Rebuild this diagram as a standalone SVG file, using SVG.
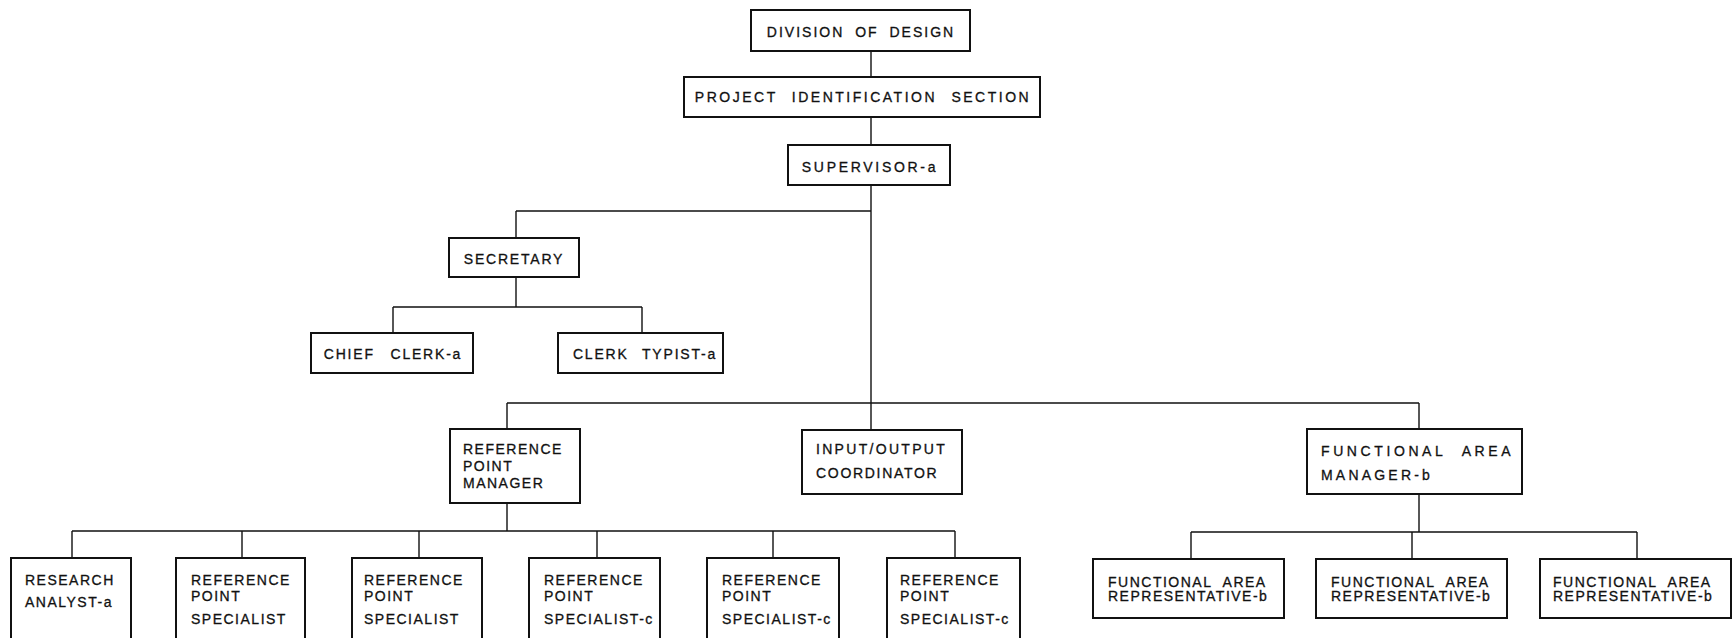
<svg xmlns="http://www.w3.org/2000/svg" width="1732" height="638" viewBox="0 0 1732 638">
<style>
.box{fill:#fff;stroke:#111;stroke-width:2}
.ln{fill:none;stroke:#111;stroke-width:1.4}
text{font-family:"Liberation Sans",Arial,sans-serif;font-size:14px;letter-spacing:1.5px;word-spacing:4px;fill:#111;stroke:#111;stroke-width:0.3px}
.c{text-anchor:middle}
</style>
<rect width="1732" height="638" fill="#fff"/>
<g id="connectors">
<path class="ln" d="M871 51V77M871 117V145M871 185V403M516 211H871M516 211V238M516 277V307M393 307H642M393 307V333M642 307V333"/>
<path class="ln" d="M507 403H1419M507 403V429M871 403V430M1419 403V429"/>
<path class="ln" d="M507 503V531M72 531H955M72 531V558M242 531V558M419 531V558M597 531V558M773 531V558M955 531V558"/>
<path class="ln" d="M1419 494V532M1191 532H1637M1191 532V559M1412 532V559M1637 532V559"/>
</g>
<g id="division"><rect class="box" x="751" y="10" width="219" height="41"/><text class="c" x="861" y="37" style="letter-spacing:2px;word-spacing:5px">DIVISION OF DESIGN</text></g>
<g id="project"><rect class="box" x="684" y="77" width="356" height="40"/><text class="c" x="863" y="102" style="letter-spacing:2.5px;word-spacing:8px">PROJECT IDENTIFICATION SECTION</text></g>
<g id="supervisor"><rect class="box" x="788" y="145" width="162" height="40"/><text class="c" x="870" y="172" style="letter-spacing:2.7px">SUPERVISOR-a</text></g>
<g id="secretary"><rect class="box" x="449" y="238" width="130" height="39"/><text class="c" x="514" y="264" style="letter-spacing:1.8px">SECRETARY</text></g>
<g id="chief-clerk"><rect class="box" x="311" y="333" width="162" height="40"/><text class="c" x="393" y="359" style="letter-spacing:1.8px;word-spacing:10px">CHIEF CLERK-a</text></g>
<g id="clerk-typist"><rect class="box" x="558" y="333" width="165" height="40"/><text class="c" x="645" y="359" style="letter-spacing:1.8px;word-spacing:8px">CLERK TYPIST-a</text></g>
<g id="rp-manager"><rect class="box" x="450" y="429" width="130" height="74"/><text x="463" y="454">REFERENCE</text><text x="463" y="471">POINT</text><text x="463" y="488">MANAGER</text></g>
<g id="io-coordinator"><rect class="box" x="802" y="430" width="160" height="64"/><text x="816" y="454" style="letter-spacing:2.3px">INPUT/OUTPUT</text><text x="816" y="478" style="letter-spacing:1.7px">COORDINATOR</text></g>
<g id="fa-manager"><rect class="box" x="1307" y="429" width="215" height="65"/><text x="1321" y="456" style="letter-spacing:3.6px;word-spacing:9px">FUNCTIONAL AREA</text><text x="1321" y="480" style="letter-spacing:3.2px">MANAGER-b</text></g>
<g id="research-analyst"><rect class="box" x="11" y="558" width="120" height="92"/><text x="25" y="585">RESEARCH</text><text x="25" y="607">ANALYST-a</text></g>
<g id="rp-specialist-1"><rect class="box" x="176" y="558" width="129" height="92"/><text x="191" y="585">REFERENCE</text><text x="191" y="601">POINT</text><text x="191" y="624">SPECIALIST</text></g>
<g id="rp-specialist-2"><rect class="box" x="352" y="558" width="130" height="92"/><text x="364" y="585">REFERENCE</text><text x="364" y="601">POINT</text><text x="364" y="624">SPECIALIST</text></g>
<g id="rp-specialist-c-1"><rect class="box" x="529" y="558" width="131" height="92"/><text x="544" y="585">REFERENCE</text><text x="544" y="601">POINT</text><text x="544" y="624">SPECIALIST-c</text></g>
<g id="rp-specialist-c-2"><rect class="box" x="707" y="558" width="132" height="92"/><text x="722" y="585">REFERENCE</text><text x="722" y="601">POINT</text><text x="722" y="624">SPECIALIST-c</text></g>
<g id="rp-specialist-c-3"><rect class="box" x="887" y="558" width="133" height="92"/><text x="900" y="585">REFERENCE</text><text x="900" y="601">POINT</text><text x="900" y="624">SPECIALIST-c</text></g>
<g id="fa-rep-1"><rect class="box" x="1093" y="559" width="191" height="59"/><text x="1108" y="587" style="word-spacing:6px">FUNCTIONAL AREA</text><text x="1108" y="601">REPRESENTATIVE-b</text></g>
<g id="fa-rep-2"><rect class="box" x="1316" y="559" width="191" height="59"/><text x="1331" y="587" style="word-spacing:6px">FUNCTIONAL AREA</text><text x="1331" y="601">REPRESENTATIVE-b</text></g>
<g id="fa-rep-3"><rect class="box" x="1540" y="559" width="191" height="59"/><text x="1553" y="587" style="word-spacing:6px">FUNCTIONAL AREA</text><text x="1553" y="601">REPRESENTATIVE-b</text></g>
</svg>
